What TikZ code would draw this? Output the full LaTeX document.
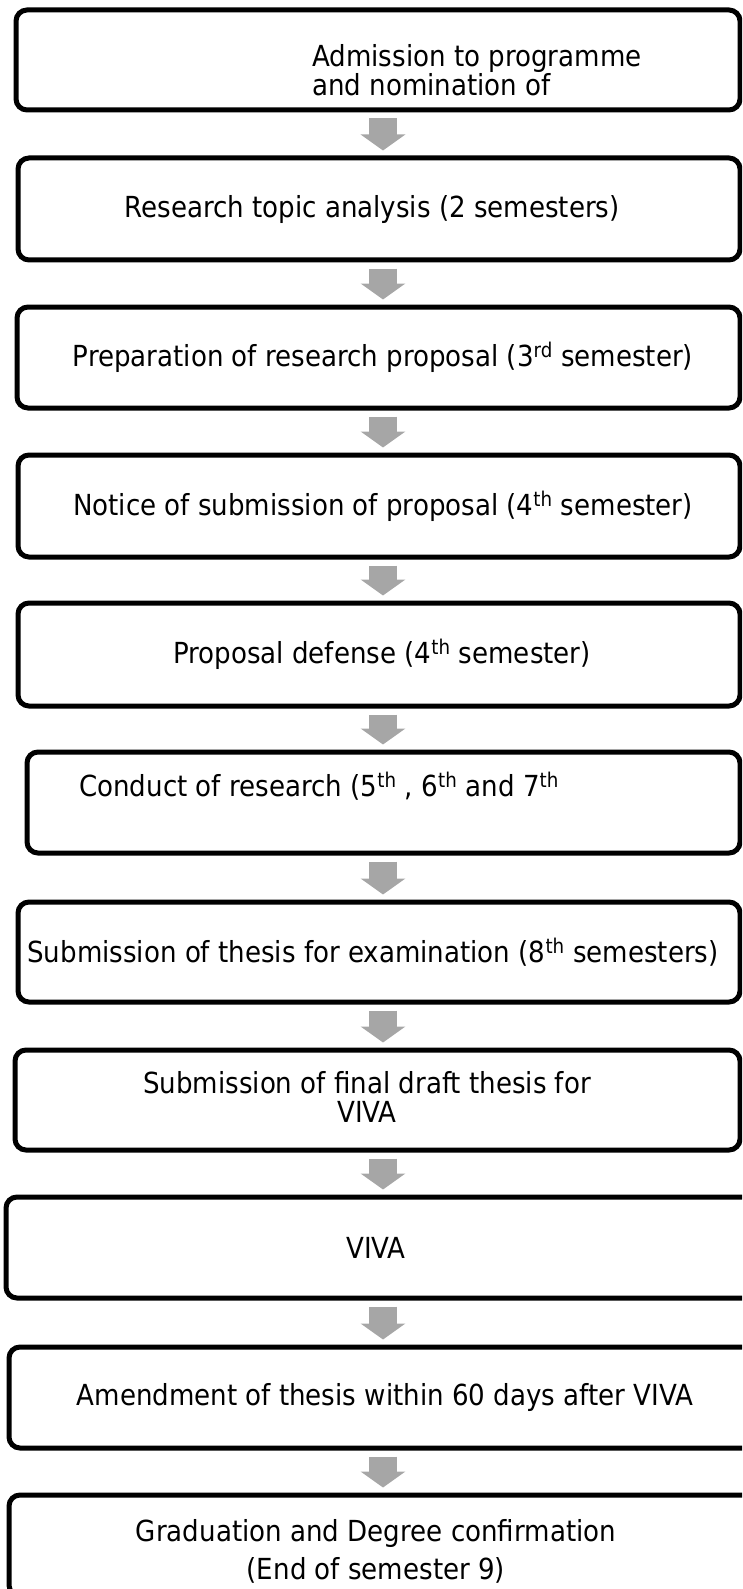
\documentclass[tikz,border=0pt]{standalone}
\usepackage{fontspec}
\setmainfont{DejaVu Sans}[FakeStretch=0.9]
\usetikzlibrary{arrows.meta,calc}

\definecolor{arrowgray}{HTML}{A6A6A6}
\newcommand\stepfont{\fontsize{29}{35}\selectfont}
\newcommand\tightfont{\fontsize{29}{29}\selectfont\lineskiplimit=-100pt\relax}

\tikzset{
  stepbox/.style={draw, line width=5pt, rounded corners=11pt, inner sep=0pt},
  steptext/.style={inner sep=0pt, font=\stepfont, align=center},
  flow/.style={draw=arrowgray, line width=28pt, -{Triangle[width=44pt,length=16pt,color=arrowgray]}}
}

\begin{document}
\begin{tikzpicture}[x=1pt,y=1pt]
  \useasboundingbox (0,0) rectangle (742,-1589);
  \clip (0,0) rectangle (742,-1589);
  \coordinate (axis) at (383,0);

  % the steps
  \node[stepbox, minimum width=724pt, minimum height=100pt] (b1)  at (378,-60)     {};
  \node[stepbox, minimum width=722pt, minimum height=102pt] (b2)  at (379,-209)    {};
  \node[stepbox, minimum width=723pt, minimum height=101pt] (b3)  at (378.5,-357.5) {};
  \node[stepbox, minimum width=722pt, minimum height=102pt] (b4)  at (379,-506)    {};
  \node[stepbox, minimum width=722pt, minimum height=103pt] (b5)  at (379,-654.5)  {};
  \node[stepbox, minimum width=713pt, minimum height=101pt] (b6)  at (383.5,-802.5) {};
  \node[stepbox, minimum width=722pt, minimum height=100pt] (b7)  at (379,-952)    {};
  \node[stepbox, minimum width=725pt, minimum height=100pt] (b8)  at (377.5,-1100) {};
  \node[stepbox, minimum width=754pt, minimum height=101pt] (b9)  at (383,-1247.5) {};
  \node[stepbox, minimum width=751pt, minimum height=101pt] (b10) at (384.5,-1397.5) {};
  \node[stepbox, minimum width=751pt, minimum height=101pt] (b11) at (384.5,-1545.5) {};

  % texts
  \node[steptext, anchor=west, align=left, font=\tightfont] (t1) at (312,-70)
    {Admission to programme\\and nomination of};
  \node[steptext] (t2)  at (372,-209)  {Research topic analysis (2 semesters)};
  \node[steptext] (t3)  at (383,-357)  {Preparation of research proposal (3\textsuperscript{rd} semester)};
  \node[steptext] (t4)  at (383,-506)  {Notice of submission of proposal (4\textsuperscript{th} semester)};
  \node[steptext] (t5)  at (382,-654)  {Proposal defense (4\textsuperscript{th} semester)};
  \node[steptext, anchor=west] (t6) at (79,-786)
    {Conduct of research (5\textsuperscript{th} , 6\textsuperscript{th} and 7\textsuperscript{th}};
  \node[steptext] (t7)  at (373,-952)  {Submission of thesis for examination (8\textsuperscript{th} semesters)};
  \node[steptext, font=\tightfont] (t8) at (367,-1097)
    {Submission of final draft thesis for\\VIVA};
  \node[steptext] (t9)  at (376,-1248) {VIVA};
  \node[steptext] (t10) at (385,-1397) {Amendment of thesis within 60 days after VIVA};
  \node[steptext, font=\fontsize{29}{38}\selectfont] (t11) at (376,-1551)
    {Graduation and Degree confirmation\\(End of semester 9)};

  % arrows between the steps
  \foreach \a/\b in {b1/b2,b2/b3,b3/b4,b4/b5,b5/b6,b6/b7,b7/b8,b8/b9,b9/b10,b10/b11}
    \draw[flow] ($(\a.south -| axis)+(0,-6)$) -- ($(\b.north -| axis)+(0,5)$);
\end{tikzpicture}
\end{document}
